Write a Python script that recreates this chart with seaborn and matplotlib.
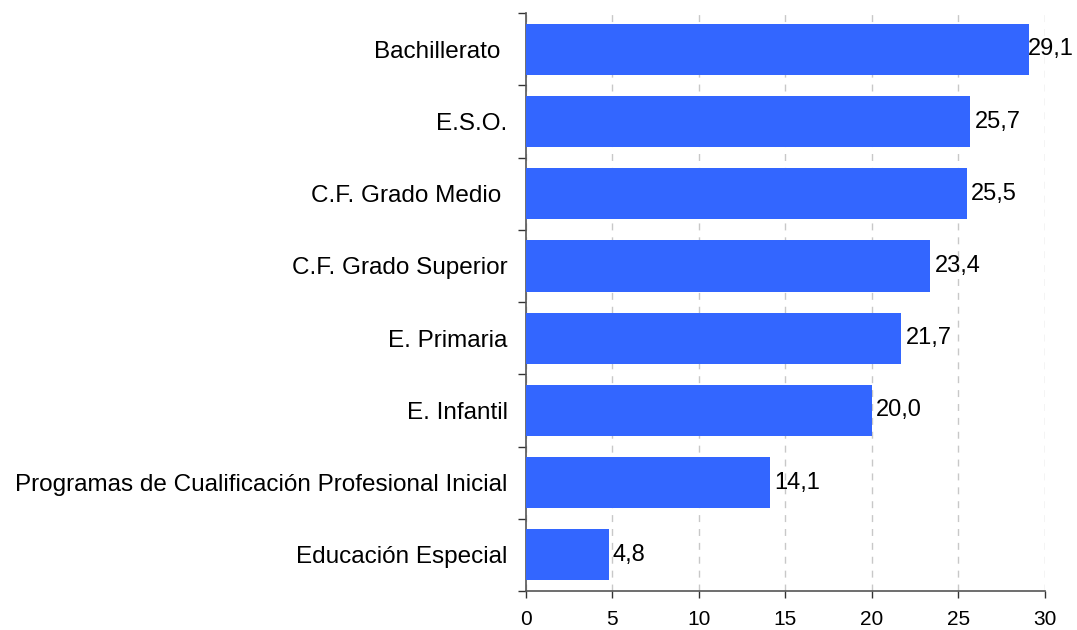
import numpy as np
import pandas as pd
import matplotlib
matplotlib.use("Agg")
import matplotlib.pyplot as plt
import seaborn as sns

categories = ["Bachillerato ", "E.S.O.", "C.F. Grado Medio ", "C.F. Grado Superior",
              "E. Primaria", "E. Infantil",
              "Programas de Cualificación Profesional Inicial", "Educación Especial"]
values = [29.1, 25.7, 25.5, 23.4, 21.7, 20.0, 14.1, 4.8]
x_ticks = [0, 5, 10, 15, 20, 25, 30]

sns.set_style("white")
plt.rcParams['font.family'] = ['Liberation Sans', 'DejaVu Sans']
plt.rcParams['text.color'] = 'black'
plt.rcParams['xtick.color'] = 'black'
plt.rcParams['ytick.color'] = 'black'

df = pd.DataFrame({"cat": categories, "val": values})

fig = plt.figure(figsize=(10.77, 6.3), dpi=100)
ax = fig.add_axes([0.488, 0.062, 0.482, 0.917])

sns.barplot(data=df, x="val", y="cat", orient="h", color="#3366FF",
            saturation=1, width=0.71, linewidth=0, ax=ax, zorder=3)

ax.set_xlim(0, 30)
ax.set_ylim(len(categories) - 0.5, -0.5)
ax.set_xticks(x_ticks)
ax.set_xticklabels([str(t) for t in x_ticks], fontsize=15)
ax.set_xlabel("")
ax.set_ylabel("")
ax.tick_params(axis="y", which="major", length=0, labelsize=17.5, pad=13, labelcolor="black")
ax.tick_params(axis="x", bottom=True, direction="out", length=5, width=1,
               color="#333333", pad=9, labelcolor="black")
ax.set_yticks(np.arange(-0.5, len(categories), 1), minor=True)
ax.tick_params(axis="y", which="minor", left=True, length=6, width=1,
               color="#333333", direction="out")

ax.xaxis.grid(True, linestyle=(0, (5, 5)), color="#c8c8c8", linewidth=1, zorder=0)
ax.set_axisbelow(True)
for s in ["top", "right"]:
    ax.spines[s].set_visible(False)
for s in ["left", "bottom"]:
    ax.spines[s].set_color("#555555")
    ax.spines[s].set_linewidth(1.2)

# the longest bar's label sits right at the bar end so it stays inside the figure
for i, v in enumerate(values):
    pad = -0.1 if v == max(values) else 0.25
    ax.text(v + pad, i, f"{v:.1f}".replace(".", ","), va="center", ha="left",
            fontsize=17, color="black", zorder=5, clip_on=False)

fig.savefig("out.png", dpi=100)
